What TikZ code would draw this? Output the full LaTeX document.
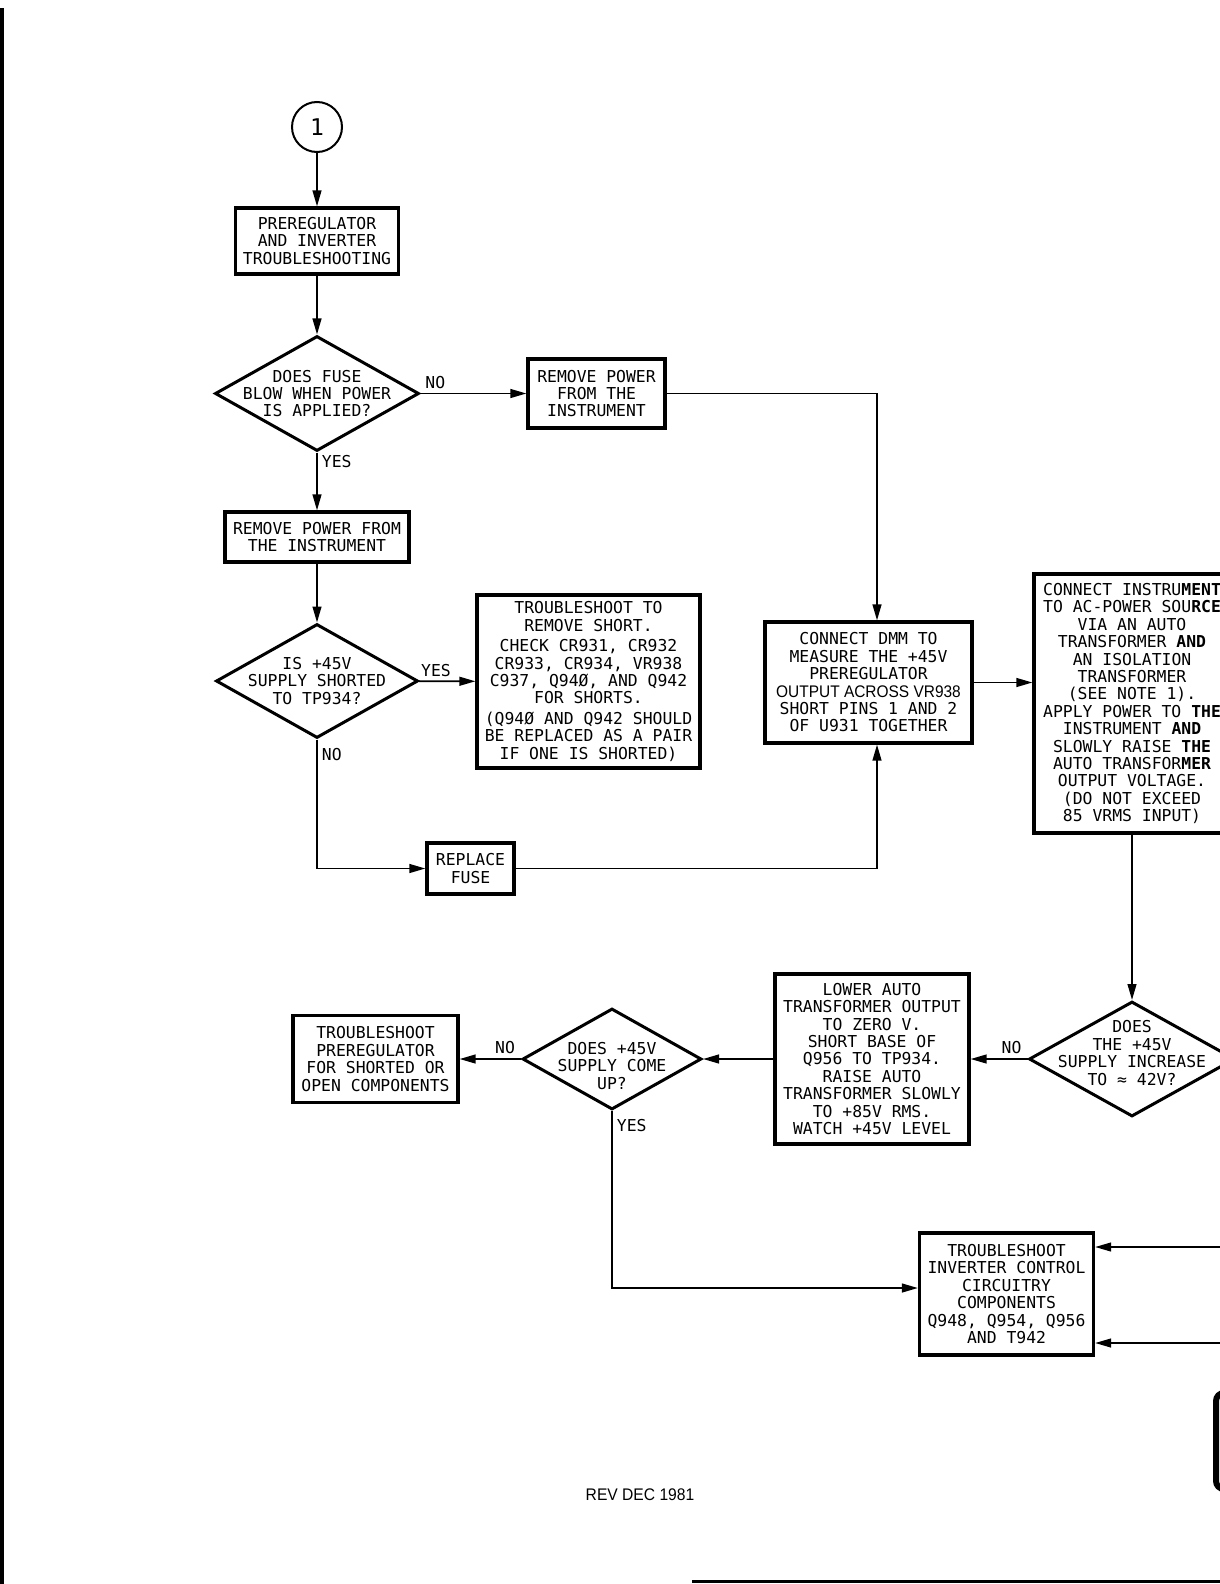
\documentclass[tikz,border=0pt]{standalone}
\usepackage{fontspec}
\usetikzlibrary{shapes.geometric,arrows.meta}
\newfontfamily\leroy{DejaVu Sans Mono}
\newfontfamily\patchfont[FakeStretch=0.92]{Liberation Sans}
\newfontfamily\revfont[FakeStretch=0.93]{Liberation Sans}

\begin{document}
\begin{tikzpicture}[x=0.5pt,y=-0.5pt,
  every node/.style={font=\leroy\fontsize{8.2}{8.7}\selectfont},
  stepbox/.style={draw,line width=1.6pt,inner sep=0pt,align=center},
  decision/.style={draw,diamond,line width=1.5pt,inner sep=0pt},
  dtext/.style={align=center,inner sep=0pt},
  flow/.style={line width=0.9pt,-{Triangle[length=8pt,width=4.4pt]}},
  answer/.style={inner sep=2pt}]
\useasboundingbox (0,0) rectangle (1220,1584);
\clip (0,0) rectangle (1220,1584);

\node[draw,circle,line width=1pt,minimum size=25pt,inner sep=0pt,font=\leroy\fontsize{11.5}{11.5}\selectfont] (entry) at (317,127) {1};
\node[stepbox,minimum width=81.5pt,minimum height=33pt] (title) at (317,241) {PREREGULATOR\\AND INVERTER\\TROUBLESHOOTING};
\node[decision,minimum width=102pt,minimum height=57.5pt,label={[dtext]center:{DOES FUSE\\BLOW WHEN POWER\\IS APPLIED?}}] (fuse) at (317,393.5) {};
\node[stepbox,minimum width=68.5pt,minimum height=34.5pt] (poweroff) at (596.5,393.5) {REMOVE POWER\\FROM THE\\INSTRUMENT};
\node[stepbox,minimum width=92pt,minimum height=25pt] (poweroffb) at (317,537) {REMOVE POWER FROM\\THE INSTRUMENT};
\node[decision,minimum width=101pt,minimum height=57pt,label={[dtext]center:{IS +45V\\SUPPLY SHORTED\\TO TP934?}}] (shorted) at (317,681) {};
\node[stepbox,minimum width=111.5pt,minimum height=86.5pt] (findshort) at (588.5,681.5) {TROUBLESHOOT TO\\REMOVE SHORT.\\[1.5pt]CHECK CR931, CR932\\CR933, CR934, VR938\\C937, Q94Ø, AND Q942\\FOR SHORTS.\\[1.5pt](Q94Ø AND Q942 SHOULD\\BE REPLACED AS A PAIR\\IF ONE IS SHORTED)};
\node[stepbox,minimum width=43.5pt,minimum height=25.5pt] (newfuse) at (470.5,868.5) {REPLACE\\FUSE};
\node[stepbox,minimum width=103.5pt,minimum height=60.5pt] (dmm) at (868.5,682.5) {CONNECT DMM TO\\MEASURE THE +45V\\PREREGULATOR\\{\patchfont\fontsize{8.4}{8.7}\selectfont OUTPUT ACROSS VR938}\\SHORT PINS 1 AND 2\\OF U931 TOGETHER};
\node[stepbox,minimum width=98pt,minimum height=129.5pt] (acpower) at (1132,703.5) {CONNECT INSTRU\textbf{MENT}\\TO AC-POWER SOU\textbf{RCE}\\VIA AN AUTO\\TRANSFORMER \textbf{AND}\\AN ISOLATION\\TRANSFORMER\\(SEE NOTE 1).\\APPLY POWER TO \textbf{THE}\\INSTRUMENT \textbf{AND}\\SLOWLY RAISE \textbf{THE}\\AUTO TRANSFOR\textbf{MER}\\OUTPUT VOLTAGE.\\(DO NOT EXCEED\\85 VRMS INPUT)};
\node[decision,minimum width=103pt,minimum height=57.5pt,label={[dtext,yshift=3pt]center:{DOES\\THE +45V\\SUPPLY INCREASE\\TO ≈ 42V?}}] (rises) at (1132,1059) {};
\node[stepbox,minimum width=97pt,minimum height=85pt] (lower) at (872,1059) {LOWER AUTO\\TRANSFORMER OUTPUT\\TO ZERO V.\\SHORT BASE OF\\Q956 TO TP934.\\RAISE AUTO\\TRANSFORMER SLOWLY\\TO +85V RMS.\\WATCH +45V LEVEL};
\node[decision,minimum width=89.5pt,minimum height=50.5pt,label={[dtext,yshift=-3.5pt]center:{DOES +45V\\SUPPLY COME\\UP?}}] (comesup) at (612,1059) {};
\node[stepbox,minimum width=82.5pt,minimum height=43.5pt] (prereg) at (375.5,1059) {TROUBLESHOOT\\PREREGULATOR\\FOR SHORTED OR\\OPEN COMPONENTS};
\node[stepbox,minimum width=87pt,minimum height=61pt] (inverter) at (1006.5,1294) {TROUBLESHOOT\\INVERTER CONTROL\\CIRCUITRY\\COMPONENTS\\Q948, Q954, Q956\\AND T942};
\node[font=\revfont\fontsize{8.4}{8.4}\selectfont] (rev) at (640,1495) {REV DEC 1981};
\coordinate (edgea) at (1230,1247);
\coordinate (edgeb) at (1230,1343);

\draw[flow] (entry) -- (title);
\draw[flow] (title) -- (fuse);
\draw[flow] (fuse) -- node[answer,above,pos=0.14]{NO} (poweroff);
\draw[flow] (fuse) -- node[answer,right,pos=0.15]{YES} (poweroffb);
\draw[flow] (poweroffb) -- (shorted);
\draw[flow] (shorted) -- node[answer,above,pos=0.3]{YES} (findshort);
\draw[flow] (shorted) |- node[answer,right,pos=0.06]{NO} (newfuse);
\draw[flow] (poweroff) -| ([xshift=4.25pt]dmm.north);
\draw[flow] (newfuse) -| ([xshift=4.25pt]dmm.south);
\draw[flow] (dmm) -- (dmm -| acpower.west);
\draw[flow] (acpower) -- (rises);
\draw[flow] (rises) -- node[answer,above,pos=0.28]{NO} (lower);
\draw[flow] (lower) -- (comesup);
\draw[flow] (comesup) -- node[answer,above,pos=0.26]{NO} (prereg);
\draw[flow] (comesup) |- node[answer,right,pos=0.04]{YES} ([yshift=3pt]inverter.west);
\draw[flow] (edgea) -- (edgea -| inverter.east);
\draw[flow] (edgeb) -- (edgeb -| inverter.east);

\fill (0,8) rectangle (4,1584);
\draw[line width=3pt,rounded corners=4pt] (1216,1393) rectangle (1250,1489);
\draw[line width=1.5pt] (692,1581) -- (1220,1581);
\end{tikzpicture}
\end{document}
